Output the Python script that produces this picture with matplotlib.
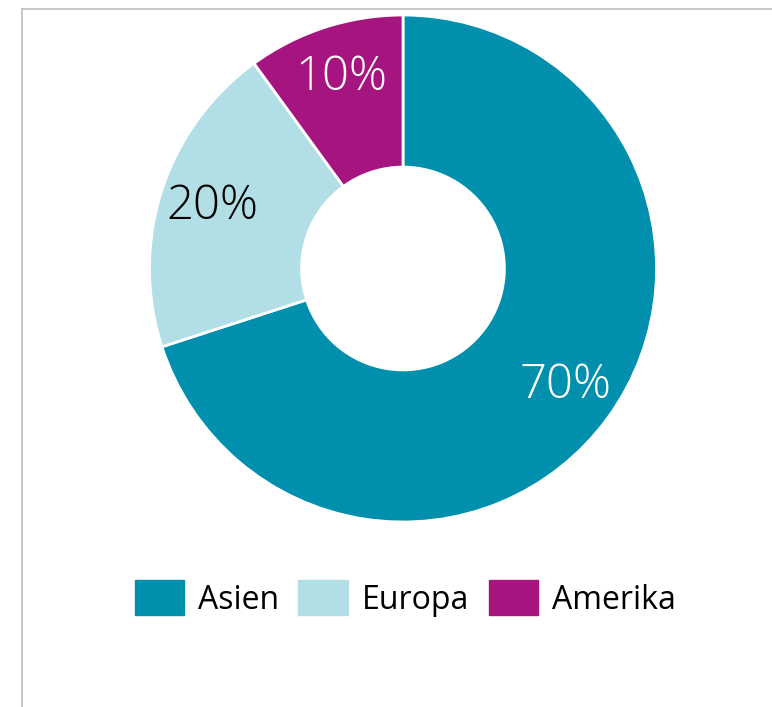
import matplotlib
matplotlib.use("Agg")
import matplotlib.pyplot as plt
from matplotlib.lines import Line2D
from matplotlib.patches import Patch

# data
regions = ["Asien", "Europa", "Amerika"]
shares = [70, 20, 10]
colors = ["#0090AE", "#B2DFE6", "#A6157F"]
label_colors = ["white", "black", "white"]

W, H = 772, 707
fig = plt.figure(figsize=(W / 100, H / 100), dpi=100)
plt.rcParams['font.family'] = ['Open Sans', 'DejaVu Sans']

# pie centre (403, 268.5) px, radius 253.5 px
cx, cy, r = 403, 268.5, 253.5
ax = fig.add_axes([(cx - r) / W, (H - cy - r) / H, 2 * r / W, 2 * r / H])
wedges, texts, autotexts = ax.pie(
    shares, colors=colors, startangle=90, counterclock=False,
    radius=1.0, autopct="%d%%", pctdistance=0.79,
    wedgeprops=dict(width=0.6, edgecolor="white", linewidth=2),
    textprops=dict(fontsize=34, fontweight="light"))
for t, c in zip(autotexts, label_colors):
    t.set_color(c)
ax.set_xlim(-1, 1)
ax.set_ylim(-1, 1)
ax.axis("off")

# outer frame (only top and left visible)
frame_col = "#BFBFBF"
fig.add_artist(Line2D([22 / W, 22 / W], [0, 1 - 9 / H], transform=fig.transFigure, color=frame_col, lw=1.2))
fig.add_artist(Line2D([22 / W, 1], [1 - 9 / H, 1 - 9 / H], transform=fig.transFigure, color=frame_col, lw=1.2))

handles = [Patch(facecolor=c, edgecolor=c) for c in colors]
fig.legend(handles, regions, loc="center", bbox_to_anchor=(405 / W, (H - 598.5) / H),
           ncol=3, frameon=False, fontsize=23, handlelength=1.55, handleheight=1.3,
           handletextpad=0.42, columnspacing=0.62)

fig.savefig("out.png", dpi=100, facecolor="white")
